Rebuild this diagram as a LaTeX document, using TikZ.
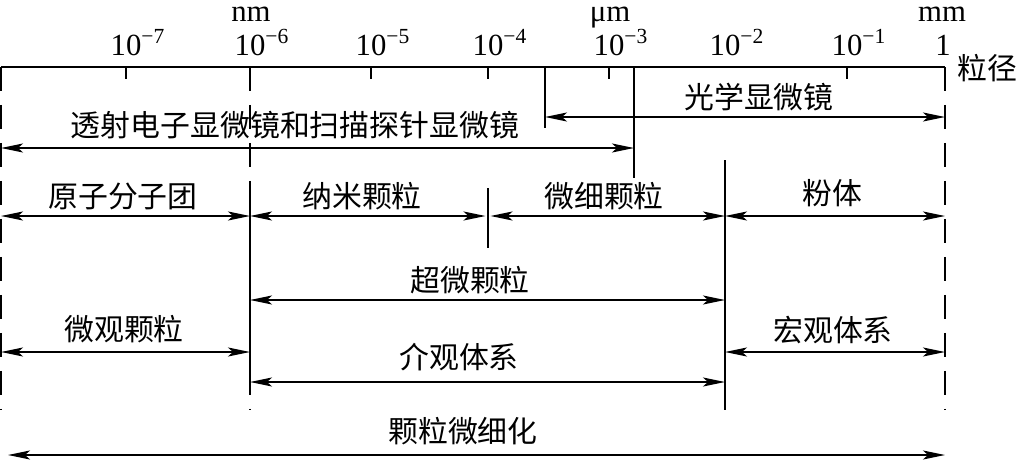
\documentclass[tikz,border=0pt]{standalone}
\usepackage{fontspec}
\setmainfont{Liberation Serif}
\newfontfamily\cjk{Noto Sans CJK SC}
\usetikzlibrary{arrows.meta, positioning, calc}
\tikzset{
    rangearrow/.style={
        {Stealth[length=0.44cm, width=0.18cm, inset=0.1cm]}-{Stealth[length=0.44cm, width=0.18cm, inset=0.1cm]},
        line width=1.1pt, color=black
    },
    axisline/.style={
        line width=1.1pt, color=black
    },
    limitline/.style={
        line width=1.1pt, color=black
    },
    gridline/.style={
        line width=1.1pt, color=black, dash pattern=on 0.48cm off 0.28cm
    },
    decade/.style={
        font=\fontsize{17.5}{20}\selectfont, inner sep=0pt, anchor=base
    },
    rangelab/.style={
        font=\cjk\fontsize{17}{20}\selectfont, inner sep=0pt
    },
}
\begin{document}
\begin{tikzpicture}[x=0.02cm, y=-0.02cm]

    \useasboundingbox (0,0) rectangle (1019,460);

    % Size axis: decades
    \coordinate (origin) at (1,67);
    \coordinate (d7) at (126,67);
    \coordinate (d6) at (250,67);
    \coordinate (d5) at (371,67);
    \coordinate (d4) at (488,67);
    \coordinate (d3) at (609,67);
    \coordinate (d2) at (725,67);
    \coordinate (d1) at (847,67);
    \coordinate (d0) at (945,67);
    \coordinate (optlim) at (545,67);
    \coordinate (temlim) at (634,67);
    \coordinate (base) at (0,410);

    % Rows of ranges
    \coordinate (rowopt) at (0,117);
    \coordinate (rowtem) at (0,148);
    \coordinate (rowsize) at (0,216);
    \coordinate (rowultra) at (0,300);
    \coordinate (rowmicro) at (0,352);
    \coordinate (rowmeso) at (0,382);
    \coordinate (rowrefine) at (8,455);

    \draw[axisline] (origin) -- (d0);
    \draw[axisline] (d7) -- ++(0,12);
    \draw[axisline] (d5) -- ++(0,12);
    \draw[axisline] (d4) -- ++(0,12);
    \draw[axisline] (d3) -- ++(0,12);
    \draw[axisline] (d1) -- ++(0,12);

    \node[decade] (lab7) at (126,55) {10\rlap{\textsuperscript{−7}}};
    \node[decade] (lab6) at (250,55) {10\rlap{\textsuperscript{−6}}};
    \node[decade] (lab5) at (371,55) {10\rlap{\textsuperscript{−5}}};
    \node[decade] (lab4) at (488,55) {10\rlap{\textsuperscript{−4}}};
    \node[decade] (lab3) at (609,55) {10\rlap{\textsuperscript{−3}}};
    \node[decade] (lab2) at (725,55) {10\rlap{\textsuperscript{−2}}};
    \node[decade] (lab1) at (847,55) {10\rlap{\textsuperscript{−1}}};
    \node[decade] (lab0) at (943,55) {1};

    % Units
    \node[decade] (nm) at (251,21) {nm};
    \node[decade] (um) at (610,21) {μm};
    \node[decade] (mm) at (942,21) {mm};
    \node[rangelab] (size) at (987,68) {粒径};

    % Boundary lines
    \draw[gridline] (origin) -- (origin |- base);
    \draw[gridline] (d6) -- (d6 |- base);
    \draw[gridline] (d0) -- (d0 |- base);
    \draw[limitline] (d6 |- 0,197) -- (d6 |- 0,388);
    \draw[limitline] (d2 |- 0,160) -- (d2 |- base);
    \draw[limitline] (optlim) -- (optlim |- 0,128);
    \draw[limitline] (temlim) -- (temlim |- 0,178);
    \draw[limitline] (d4 |- 0,188) -- (d4 |- 0,248);

    % Microscopes
    \draw[rangearrow] (optlim |- rowopt) -- (d0 |- rowopt);
    \node[rangelab] (optical) at (759,97) {光学显微镜};
    \draw[rangearrow] (origin |- rowtem) -- (temlim |- rowtem);
    \node[rangelab] (tem) at (295,125) {透射电子显微镜和扫描探针显微镜};

    % Particle classes
    \draw[rangearrow] (origin |- rowsize) -- (d6 |- rowsize);
    \node[rangelab] (cluster) at (123,196) {原子分子团};
    \draw[rangearrow, shorten >=0.05cm] (d6 |- rowsize) -- (d4 |- rowsize);
    \node[rangelab] (nano) at (362,196) {纳米颗粒};
    \draw[rangearrow, shorten <=0.05cm] (d4 |- rowsize) -- (d2 |- rowsize);
    \node[rangelab] (fine) at (604,196) {微细颗粒};
    \draw[rangearrow] (d2 |- rowsize) -- (d0 |- rowsize);
    \node[rangelab] (powder) at (832,193) {粉体};

    \draw[rangearrow] (d6 |- rowultra) -- (d2 |- rowultra);
    \node[rangelab] (ultra) at (470,280) {超微颗粒};

    % Systems
    \draw[rangearrow] (origin |- rowmicro) -- (d6 |- rowmicro);
    \node[rangelab] (micro) at (124,329) {微观颗粒};
    \draw[rangearrow] (d2 |- rowmicro) -- (d0 |- rowmicro);
    \node[rangelab] (macro) at (833,330) {宏观体系};
    \draw[rangearrow] (d6 |- rowmeso) -- (d2 |- rowmeso);
    \node[rangelab] (meso) at (459,357) {介观体系};

    \draw[rangearrow] (rowrefine) -- (d0 |- rowrefine);
    \node[rangelab] (refine) at (463,431) {颗粒微细化};

\end{tikzpicture}
\end{document}
